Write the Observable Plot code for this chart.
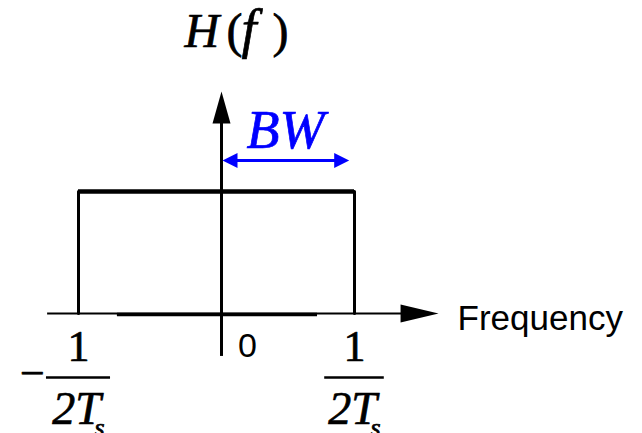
<!DOCTYPE html>
<html><head><meta charset="utf-8">
<script src="https://cdn.jsdelivr.net/npm/d3@7"></script>
<script src="https://cdn.jsdelivr.net/npm/@observablehq/plot@0.6"></script>
<style>html,body{margin:0;padding:0;background:#fff;overflow:hidden}</style>
</head><body><div id="chart"></div>
<script>
// ---- data ----
const rectX = [-0.5, -0.5, 0.5, 0.5];      // ±1/(2Ts)
const rectY = [0, 1, 1, 0];                // H(f) = 1 in passband
const edgeTicks = [-0.5, 0.5];
const edgeSigns = ["−", ""];
const edgeNumerators = ["1", "1"];
const edgeDenominators = ["2T", "2T"];
const edgeSubscripts = ["s", "s"];
const zeroTick = [0];
const zeroLabel = ["0"];
const xAxisLabel = "Frequency";
const yAxisPieces = ["H", "(", "f", ")"];
const bwLabel = "BW";
const bwRange = [0, 0.48];
const bwLevel = 1.254;
const xAxisExtent = [-0.608, 0.816];
const yAxisExtent = [-0.352, 1.82];

const SERIF = "Liberation Serif";
const SANS = "Liberation Sans";
const BLUE = "#0000ff";

function tri(points) {
  return {
    draw(ctx, size) {
      const k = Math.sqrt(size / Math.PI) / 10;
      ctx.moveTo(points[0][0] * k, points[0][1] * k);
      for (let i = 1; i < points.length; i++) ctx.lineTo(points[i][0] * k, points[i][1] * k);
      ctx.closePath();
    }
  };
}
const upHead = tri([[0, 0], [-9, 32], [9, 32]]);
const rightHead = tri([[0, 0], [-38, -9], [-38, 9]]);
const blueRight = tri([[0, 0], [-15, -7.5], [-15, 7.5]]);
const blueLeft = tri([[0, 0], [15, -7.5], [15, 7.5]]);

const rect = rectX.map((x, i) => ({x, y: rectY[i]}));
const edges = edgeTicks.map((x, i) => ({
  x, sign: edgeSigns[i], num: edgeNumerators[i], den: edgeDenominators[i], sub: edgeSubscripts[i]
}));
const zero = zeroTick.map((x, i) => ({x, label: zeroLabel[i]}));

const serifText = (fill = "black") => ({fontFamily: SERIF, fill, stroke: fill, strokeWidth: 0.7});

const chart = Plot.plot({
  width: 642,
  height: 433,
  margin: 0,
  x: {type: "linear", domain: [-0.5, 0, 0.5], range: [78, 221, 354], axis: null},
  y: {type: "linear", domain: [0, 1], range: [313, 191], axis: null},
  marks: [
    // horizontal axis
    Plot.ruleY([0], {x1: xAxisExtent[0], x2: xAxisExtent[1] - 0.1, stroke: "black", strokeWidth: 2}),
    Plot.ruleY([0], {x1: -0.364, x2: 0.361, stroke: "black", strokeWidth: 3.5, dy: 1}),
    Plot.dot([{x: xAxisExtent[1], y: 0}], {x: "x", y: "y", symbol: rightHead, r: 10, fill: "black", stroke: "none"}),
    // vertical axis
    Plot.ruleX([0], {y1: yAxisExtent[0], y2: yAxisExtent[1] - 0.15, stroke: "black", strokeWidth: 3}),
    Plot.dot([{x: 0, y: yAxisExtent[1]}], {x: "x", y: "y", symbol: upHead, r: 10, fill: "black", stroke: "none"}),
    // rectangle H(f)
    Plot.line(rect, {x: "x", y: "y", stroke: "black", strokeWidth: 3}),
    Plot.ruleY([1], {x1: rectX[1], x2: rectX[2], stroke: "black", strokeWidth: 4.5}),
    // BW arrow
    Plot.ruleY([bwLevel], {x1: bwRange[0] + 0.03, x2: bwRange[1] - 0.03, stroke: BLUE, strokeWidth: 3}),
    Plot.dot([{x: bwRange[0], y: bwLevel}], {x: "x", y: "y", symbol: blueLeft, r: 10, fill: BLUE, stroke: "none", dx: 1}),
    Plot.dot([{x: bwRange[1], y: bwLevel}], {x: "x", y: "y", symbol: blueRight, r: 10, fill: BLUE, stroke: "none"}),
    Plot.text([bwLabel], {x: bwRange[0], y: bwLevel, text: d => d, dx: 25, dy: -13, textAnchor: "start", lineAnchor: "bottom",
      ...serifText(BLUE), fontStyle: "italic", fontSize: 54}),
    // y label H(f)
    Plot.text([yAxisPieces[0]], {x: 0, y: yAxisExtent[1], text: d => d, dx: -37, dy: -44, textAnchor: "start", lineAnchor: "bottom",
      ...serifText(), fontStyle: "italic", fontSize: 48}),
    Plot.text([yAxisPieces[1]], {x: 0, y: yAxisExtent[1], text: d => d, dx: 5, dy: -44, textAnchor: "start", lineAnchor: "bottom",
      ...serifText(), fontSize: 48}),
    Plot.text([yAxisPieces[2]], {x: 0, y: yAxisExtent[1], text: d => d, dx: 20, dy: -44, textAnchor: "start", lineAnchor: "bottom",
      ...serifText(), fontStyle: "italic", fontSize: 54}),
    Plot.text([yAxisPieces[3]], {x: 0, y: yAxisExtent[1], text: d => d, dx: 51, dy: -44, textAnchor: "start", lineAnchor: "bottom",
      ...serifText(), fontSize: 48}),
    // x label
    Plot.text([xAxisLabel], {x: xAxisExtent[1], y: 0, text: d => d, dx: 19, dy: 16, textAnchor: "start", lineAnchor: "bottom",
      fontFamily: SANS, fontSize: 35}),
    // zero tick
    Plot.text(zero, {x: "x", y: 0, text: "label", dx: 26, dy: 43, textAnchor: "middle", lineAnchor: "bottom",
      fontFamily: SANS, fontSize: 34}),
    // ±1/(2Ts) tick labels
    Plot.text(edges, {x: "x", y: 0, text: "num", dy: 47, textAnchor: "middle", lineAnchor: "bottom",
      ...serifText(), fontSize: 44}),
    Plot.ruleY(edges, {y: 0, x1: d => d.x - 0.112, x2: d => d.x + 0.112, dy: 64, stroke: "black", strokeWidth: 2.5}),
    Plot.text(edges, {x: "x", y: 0, text: "sign", dx: -46, dy: 74, textAnchor: "middle", lineAnchor: "bottom",
      ...serifText(), fontSize: 44}),
    Plot.text(edges, {x: "x", y: 0, text: "den", dx: -2, dy: 110, textAnchor: "middle", lineAnchor: "bottom",
      ...serifText(), fontStyle: "italic", fontSize: 46}),
    Plot.text(edges, {x: "x", y: 0, text: "sub", dx: 21, dy: 122, textAnchor: "middle", lineAnchor: "bottom",
      ...serifText(), fontStyle: "italic", fontSize: 26})
  ]
});
document.getElementById("chart").appendChild(chart);
</script>
</body></html>
